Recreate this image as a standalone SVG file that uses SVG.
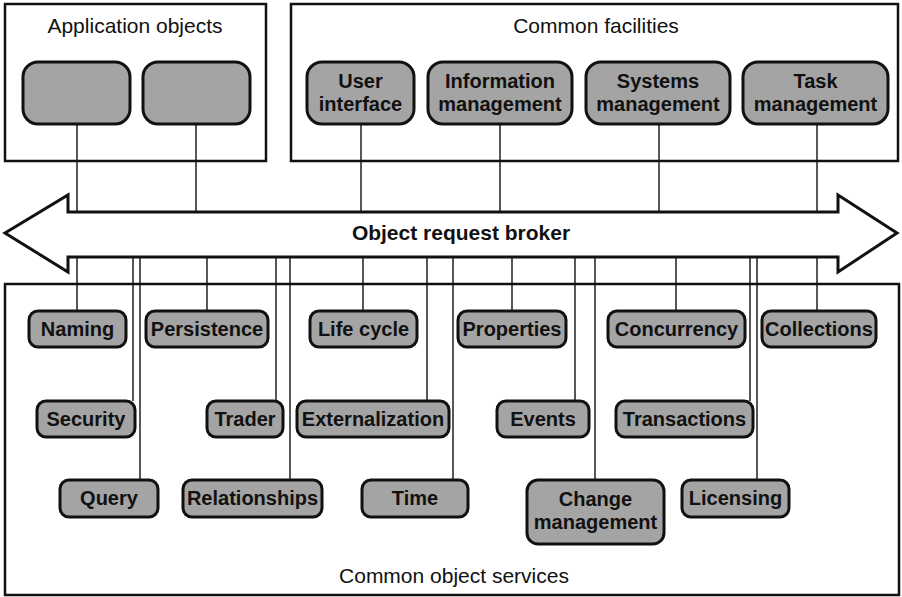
<svg xmlns="http://www.w3.org/2000/svg" width="902" height="597" viewBox="0 0 902 597">
  <style>
    .frame { fill: #ffffff; stroke: #111; stroke-width: 2.5; }
    .title { font-family: "Liberation Sans", Arial, sans-serif; font-size: 21px; fill: #111; text-anchor: middle; }
    .node rect { fill: #a4a4a4; stroke: #111; stroke-width: 3; }
    .node text { font-family: "Liberation Sans", Arial, sans-serif; font-size: 20px; font-weight: bold; fill: #111; text-anchor: middle; }
    .link { stroke: #111; stroke-width: 1.4; fill: none; }
    .orb { fill: #ffffff; stroke: #111; stroke-width: 3; stroke-linejoin: miter; }
    .orb-label { font-family: "Liberation Sans", Arial, sans-serif; font-size: 21px; font-weight: bold; fill: #111; text-anchor: middle; }
  </style>

  <!-- Enclosing areas -->
  <g id="application-objects">
    <rect class="frame" x="5" y="4" width="261" height="157"/>
    <text class="title" x="135" y="33">Application objects</text>
  </g>
  <g id="common-facilities">
    <rect class="frame" x="291" y="4" width="607" height="157"/>
    <text class="title" x="596" y="33">Common facilities</text>
  </g>
  <g id="common-object-services">
    <rect class="frame" x="5" y="284" width="894" height="311"/>
    <text class="title" x="454" y="583">Common object services</text>
  </g>

  <!-- Connectors to the broker -->
  <g id="connectors">
    <line class="link" x1="77" y1="124" x2="77" y2="212"/>
    <line class="link" x1="196" y1="124" x2="196" y2="212"/>
    <line class="link" x1="361" y1="124" x2="361" y2="212"/>
    <line class="link" x1="500" y1="124" x2="500" y2="212"/>
    <line class="link" x1="659" y1="124" x2="659" y2="212"/>
    <line class="link" x1="817" y1="124" x2="817" y2="212"/>

    <line class="link" x1="77" y1="257" x2="77" y2="311"/>
    <line class="link" x1="133" y1="257" x2="133" y2="401"/>
    <line class="link" x1="140" y1="257" x2="140" y2="480"/>
    <line class="link" x1="207" y1="257" x2="207" y2="311"/>
    <line class="link" x1="276" y1="257" x2="276" y2="401"/>
    <line class="link" x1="290" y1="257" x2="290" y2="480"/>
    <line class="link" x1="363" y1="257" x2="363" y2="311"/>
    <line class="link" x1="427" y1="257" x2="427" y2="401"/>
    <line class="link" x1="453" y1="257" x2="453" y2="480"/>
    <line class="link" x1="512" y1="257" x2="512" y2="311"/>
    <line class="link" x1="575" y1="257" x2="575" y2="401"/>
    <line class="link" x1="595" y1="257" x2="595" y2="480"/>
    <line class="link" x1="676" y1="257" x2="676" y2="311"/>
    <line class="link" x1="750" y1="257" x2="750" y2="401"/>
    <line class="link" x1="757" y1="257" x2="757" y2="480"/>
    <line class="link" x1="817" y1="257" x2="817" y2="311"/>
  </g>

  <!-- Object request broker: double-headed arrow -->
  <g id="object-request-broker">
    <path class="orb" d="M5,233 L68,195 L68,212 L838,212 L838,195 L897,233 L838,272 L838,257 L68,257 L68,272 Z"/>
    <text class="orb-label" x="461" y="240">Object request broker</text>
  </g>

  <!-- Application objects -->
  <g id="app-object-1" class="node"><rect x="23" y="62" width="107" height="62" rx="15"/></g>
  <g id="app-object-2" class="node"><rect x="143" y="62" width="107" height="62" rx="15"/></g>

  <!-- Common facilities -->
  <g id="user-interface" class="node">
    <rect x="307" y="62" width="107" height="62" rx="15"/>
    <text x="360.5" y="88">User</text>
    <text x="360.5" y="111">interface</text>
  </g>
  <g id="information-management" class="node">
    <rect x="428" y="62" width="144" height="62" rx="15"/>
    <text x="500" y="88">Information</text>
    <text x="500" y="111">management</text>
  </g>
  <g id="systems-management" class="node">
    <rect x="586" y="62" width="144" height="62" rx="15"/>
    <text x="658" y="88">Systems</text>
    <text x="658" y="111">management</text>
  </g>
  <g id="task-management" class="node">
    <rect x="743" y="62" width="145" height="62" rx="15"/>
    <text x="815.5" y="88">Task</text>
    <text x="815.5" y="111">management</text>
  </g>

  <!-- Common object services: first row -->
  <g id="naming" class="node">
    <rect x="29" y="311" width="97" height="36" rx="9"/>
    <text x="77.5" y="336">Naming</text>
  </g>
  <g id="persistence" class="node">
    <rect x="146" y="311" width="122" height="36" rx="9"/>
    <text x="207" y="336">Persistence</text>
  </g>
  <g id="life-cycle" class="node">
    <rect x="310" y="311" width="107" height="36" rx="9"/>
    <text x="363.5" y="336">Life cycle</text>
  </g>
  <g id="properties" class="node">
    <rect x="458" y="311" width="108" height="36" rx="9"/>
    <text x="512" y="336">Properties</text>
  </g>
  <g id="concurrency" class="node">
    <rect x="608" y="311" width="137" height="36" rx="9"/>
    <text x="676.5" y="336">Concurrency</text>
  </g>
  <g id="collections" class="node">
    <rect x="762" y="311" width="114" height="36" rx="9"/>
    <text x="819" y="336">Collections</text>
  </g>

  <!-- Second row -->
  <g id="security" class="node">
    <rect x="37" y="401" width="98" height="36" rx="9"/>
    <text x="86" y="426">Security</text>
  </g>
  <g id="trader" class="node">
    <rect x="207" y="401" width="76" height="36" rx="9"/>
    <text x="245" y="426">Trader</text>
  </g>
  <g id="externalization" class="node">
    <rect x="297" y="401" width="152" height="36" rx="9"/>
    <text x="373" y="426">Externalization</text>
  </g>
  <g id="events" class="node">
    <rect x="497" y="401" width="92" height="36" rx="9"/>
    <text x="543" y="426">Events</text>
  </g>
  <g id="transactions" class="node">
    <rect x="616" y="401" width="137" height="36" rx="9"/>
    <text x="684.5" y="426">Transactions</text>
  </g>

  <!-- Third row -->
  <g id="query" class="node">
    <rect x="60" y="480" width="98" height="37" rx="9"/>
    <text x="109" y="505">Query</text>
  </g>
  <g id="relationships" class="node">
    <rect x="183" y="480" width="139" height="37" rx="9"/>
    <text x="252.5" y="505">Relationships</text>
  </g>
  <g id="time" class="node">
    <rect x="362" y="480" width="106" height="37" rx="9"/>
    <text x="415" y="505">Time</text>
  </g>
  <g id="change-management" class="node">
    <rect x="527" y="480" width="137" height="64" rx="11"/>
    <text x="595.5" y="506">Change</text>
    <text x="595.5" y="529">management</text>
  </g>
  <g id="licensing" class="node">
    <rect x="682" y="480" width="107" height="37" rx="9"/>
    <text x="735.5" y="505">Licensing</text>
  </g>
</svg>
